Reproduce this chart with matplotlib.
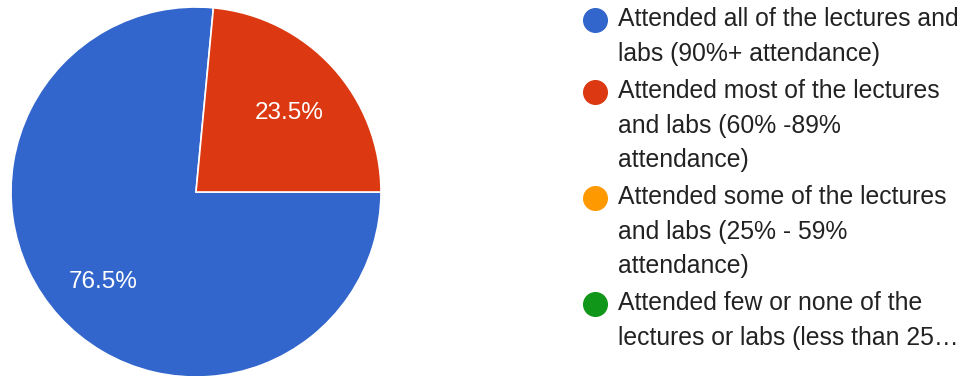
import matplotlib.pyplot as plt
from matplotlib.lines import Line2D

# attendance survey results
categories = [
    "Attended all of the lectures and\nlabs (90%+ attendance)",
    "Attended most of the lectures\nand labs (60% -89%\nattendance)",
    "Attended some of the lectures\nand labs (25% - 59%\nattendance)",
    "Attended few or none of the\nlectures or labs (less than 25\u2026",
]
shares = [76.5, 23.5, 0.0, 0.0]
colors = ["#3366CC", "#DC3912", "#FF9900", "#109618"]

plt.rcParams['font.family'] = ['Liberation Sans', 'DejaVu Sans']

W, H = 966, 376
fig = plt.figure(figsize=(W / 100, H / 100), dpi=100)

# pie on the left, centre (196, 192) px, radius 185 px
cx, cy, r = 196, 192, 185
ax = fig.add_axes([(cx - r) / W, (H - cy - r) / H, 2 * r / W, 2 * r / H])
nonzero = [(s, c) for s, c in zip(shares, colors) if s > 0]
wedges, _, pct_texts = ax.pie(
    [s for s, _ in nonzero], colors=[c for _, c in nonzero],
    startangle=0, counterclock=False,
    autopct='%.1f%%', pctdistance=0.68,
    wedgeprops=dict(edgecolor='white', linewidth=1.2),
    textprops=dict(color='white', fontsize=17.5))
# centre the digits rather than the full text box
for t in pct_texts:
    x, y = t.get_position()
    t.set_position((x, y - 0.028))
ax.set_xlim(-1, 1)
ax.set_ylim(-1, 1)
ax.set_aspect('auto')

# legend drawn by hand so each marker sits on its first line
lax = fig.add_axes([0, 0, 1, 1])
lax.set_xlim(0, W)
lax.set_ylim(H, 0)
lax.axis('off')

line_h = 34.0
gap = 4.0
y = 19.5
for label, col in zip(categories, colors):
    lines = label.split("\n")
    lax.add_line(Line2D([595], [y], marker='o', markersize=17,
                        markerfacecolor=col, markeredgecolor=col))
    for k, txt in enumerate(lines):
        lax.text(618, y + k * line_h, txt, va='center', ha='left',
                 fontsize=17.8, color='#222222')
    y += len(lines) * line_h + gap

fig.savefig("out.png", dpi=100)
